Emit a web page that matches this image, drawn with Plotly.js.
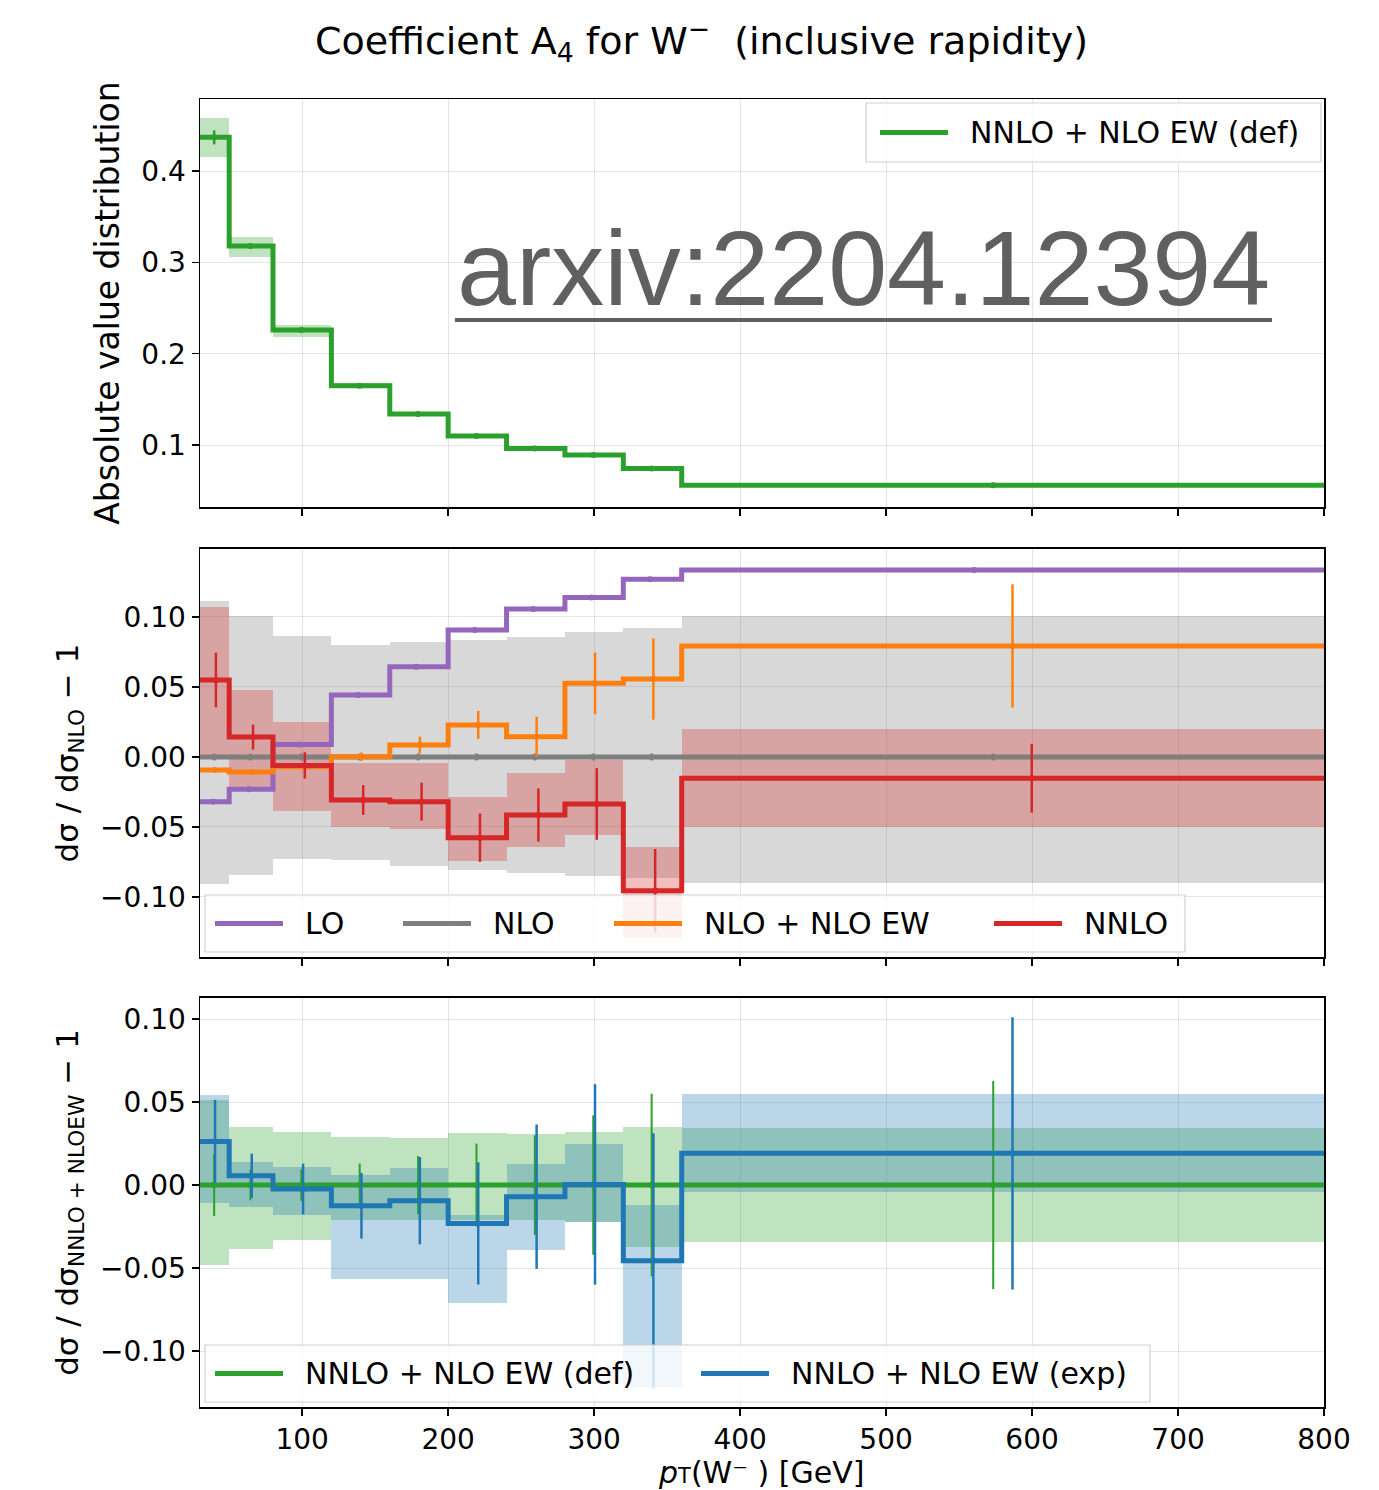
<!DOCTYPE html>
<html>
<head>
<meta charset="utf-8">
<script src="https://cdn.plot.ly/plotly-3.0.1.min.js"></script>
<style>
  html, body { margin: 0; padding: 0; background: #ffffff; }
  #chart { width: 1379px; height: 1490px; }
</style>
</head>
<body>
<div id="chart"></div>
<script>
// ---------------- DATA ----------------
const binEdges = [30, 50, 80, 120, 160, 200, 240, 280, 320, 360, 800];
const xTickVals = [100, 200, 300, 400, 500, 600, 700, 800];

// Top panel: absolute value distribution, NNLO + NLO EW (def)
const absDef       = [0.437, 0.318, 0.226, 0.165, 0.134, 0.110, 0.0963, 0.089, 0.0744, 0.056];
const absDefErr    = [0.0077, 0.002, 0.002, 0.0012, 0.0012, 0.001, 0.001, 0.0015, 0.002, 0.001];
const absDefBandLo = [0.416, 0.306, 0.218, 0.162, 0.132, 0.108, 0.095, 0.088, 0.073, 0.0555];
const absDefBandHi = [0.458, 0.328, 0.231, 0.168, 0.136, 0.112, 0.098, 0.090, 0.076, 0.0565];

// Middle panel: ratio to NLO
const ratioLO        = [-0.032, -0.023, 0.009, 0.0443, 0.0645, 0.0907, 0.1057, 0.114, 0.1269, 0.1336];
const ratioLOErr     = [0.001, 0.001, 0.001, 0.001, 0.001, 0.001, 0.001, 0.001, 0.001, 0.001];
const ratioNLO       = [0, 0, 0, 0, 0, 0, 0, 0, 0, 0];
const ratioNLOErr    = [0.0025, 0.0025, 0.0025, 0.0025, 0.0025, 0.0025, 0.0025, 0.0025, 0.0025, 0.0025];
const ratioNLOBandLo = [-0.0907, -0.0843, -0.0730, -0.0733, -0.0776, -0.0807, -0.0831, -0.085, -0.0864, -0.0902];
const ratioNLOBandHi = [0.1114, 0.1005, 0.0862, 0.080, 0.0819, 0.0836, 0.086, 0.089, 0.0919, 0.1007];
const ratioEW        = [-0.0093, -0.0108, -0.007, 0.0002, 0.0086, 0.0229, 0.0145, 0.0526, 0.0557, 0.0793];
const ratioEWErr     = [0.001, 0.001, 0.0015, 0.003, 0.006, 0.010, 0.0143, 0.022, 0.029, 0.044];
const ratioNNLO       = [0.055, 0.0142, -0.006, -0.0307, -0.0319, -0.0576, -0.0414, -0.0336, -0.0955, -0.0152];
const ratioNNLOErr    = [0.0195, 0.0089, 0.0094, 0.0107, 0.0136, 0.0173, 0.019, 0.0256, 0.0298, 0.0246];
const ratioNNLOBandLo = [0.001, -0.0215, -0.0383, -0.0498, -0.0514, -0.0743, -0.064, -0.0557, -0.1295, -0.0498];
const ratioNNLOBandHi = [0.107, 0.0479, 0.0250, -0.004, -0.0045, -0.0283, -0.0117, -0.0021, -0.064, 0.020];

// Bottom panel: ratio to NNLO + NLO EW (def)
const ratioDef       = [0, 0, 0, 0, 0, 0, 0, 0, 0, 0];
const ratioDefErr    = [0.0187, 0.0092, 0.0095, 0.013, 0.0175, 0.025, 0.030, 0.042, 0.055, 0.0627];
const ratioDefBandLo = [-0.048, -0.0385, -0.0329, -0.0211, -0.0211, -0.0211, -0.0211, -0.0225, -0.0372, -0.0341];
const ratioDefBandHi = [0.051, 0.0351, 0.0321, 0.0289, 0.0281, 0.0311, 0.0305, 0.0321, 0.0347, 0.0345];
const ratioExp       = [0.0263, 0.0056, -0.0024, -0.0125, -0.0094, -0.0231, -0.0070, 0.0004, -0.0456, 0.0191];
const ratioExpErr    = [0.025, 0.0133, 0.0153, 0.0198, 0.0263, 0.0368, 0.0435, 0.0604, 0.0768, 0.082];
const ratioExpBandLo = [-0.011, -0.013, -0.018, -0.0568, -0.0568, -0.0713, -0.039, -0.0225, -0.1215, -0.004];
const ratioExpBandHi = [0.0542, 0.0139, 0.0107, 0.0058, 0.010, -0.018, 0.0127, 0.0247, -0.012, 0.0547];

// Legend labels and axis title
const topLegendLabels    = ['NNLO + NLO EW (def)'];
const middleLegendLabels = ['LO', 'NLO', 'NLO + NLO EW', 'NNLO'];
const bottomLegendLabels = ['NNLO + NLO EW (def)', 'NNLO + NLO EW (exp)'];
const xTitle = '<i>p</i><span style="font-size:21px">T</span>(W⁻ ) [GeV]';

// ---------------- HELPERS ----------------
const centers = binEdges.slice(0, -1).map((e, i) => (e + binEdges[i + 1]) / 2);
const widths  = binEdges.slice(0, -1).map((e, i) => binEdges[i + 1] - e);

const C = {
  green: '#2ca02c', purple: '#9467bd', grey: '#7f7f7f',
  orange: '#ff7f0e', red: '#d62728', blue: '#1f77b4'
};
function rgba(hex, a) {
  const r = parseInt(hex.slice(1, 3), 16), g = parseInt(hex.slice(3, 5), 16), b = parseInt(hex.slice(5, 7), 16);
  return `rgba(${r},${g},${b},${a})`;
}
function stepTrace(vals, color, name, xa, ya) {
  return {
    type: 'scatter', mode: 'lines', name: name,
    x: binEdges, y: vals.concat([vals[vals.length - 1]]),
    line: { shape: 'hv', color: color, width: 5 },
    xaxis: xa, yaxis: ya, showlegend: false, hoverinfo: 'skip'
  };
}
function errTrace(vals, errs, color, frac, xa, ya, thick) {
  return {
    type: 'scatter', mode: 'markers',
    x: centers.map((c, i) => c + frac * widths[i]), y: vals,
    marker: { size: 0, color: color },
    error_y: { type: 'data', array: errs, visible: true, color: color, thickness: thick, width: 0 },
    xaxis: xa, yaxis: ya, showlegend: false, hoverinfo: 'skip'
  };
}
function bandTrace(lo, hi, color, xa, ya) {
  return {
    type: 'bar', x: centers, width: widths, base: lo,
    y: hi.map((h, i) => h - lo[i]),
    marker: { color: rgba(color, 0.3), line: { width: 0 } },
    xaxis: xa, yaxis: ya, showlegend: false, hoverinfo: 'skip'
  };
}

// ---------------- TRACES ----------------
const traces = [
  bandTrace(absDefBandLo, absDefBandHi, C.green, 'x', 'y'),
  stepTrace(absDef, C.green, topLegendLabels[0], 'x', 'y'),
  errTrace(absDef, absDefErr, C.green, -0.015, 'x', 'y', 2.5),

  bandTrace(ratioNLOBandLo, ratioNLOBandHi, C.grey, 'x2', 'y2'),
  bandTrace(ratioNNLOBandLo, ratioNNLOBandHi, C.red, 'x2', 'y2'),
  stepTrace(ratioLO, C.purple, middleLegendLabels[0], 'x2', 'y2'),
  errTrace(ratioLO, ratioLOErr, C.purple, -0.045, 'x2', 'y2', 2.5),
  stepTrace(ratioNLO, C.grey, middleLegendLabels[1], 'x2', 'y2'),
  errTrace(ratioNLO, ratioNLOErr, C.grey, -0.015, 'x2', 'y2', 2.5),
  stepTrace(ratioEW, C.orange, middleLegendLabels[2], 'x2', 'y2'),
  errTrace(ratioEW, ratioEWErr, C.orange, 0.015, 'x2', 'y2', 2.5),
  stepTrace(ratioNNLO, C.red, middleLegendLabels[3], 'x2', 'y2'),
  errTrace(ratioNNLO, ratioNNLOErr, C.red, 0.045, 'x2', 'y2', 2.5),

  bandTrace(ratioDefBandLo, ratioDefBandHi, C.green, 'x3', 'y3'),
  bandTrace(ratioExpBandLo, ratioExpBandHi, C.blue, 'x3', 'y3'),
  stepTrace(ratioDef, C.green, bottomLegendLabels[0], 'x3', 'y3'),
  errTrace(ratioDef, ratioDefErr, C.green, -0.015, 'x3', 'y3', 2),
  stepTrace(ratioExp, C.blue, bottomLegendLabels[1], 'x3', 'y3'),
  errTrace(ratioExp, ratioExpErr, C.blue, 0.015, 'x3', 'y3', 2.5)
];

// ---------------- LAYOUT ----------------
const W = 1379, H = 1490;
const M = { l: 200, r: 55, t: 99, b: 83 };
const plotW = W - M.l - M.r, plotH = H - M.t - M.b;
const px2x = px => (px - M.l) / plotW;
const px2y = py => (H - M.b - py) / plotH;

const FONT = 'DejaVu Sans, Noto Sans, sans-serif';
function xAxis(anchor, labels) {
  const ax = {
    anchor: anchor, range: [30, 800], tickvals: xTickVals,
    showticklabels: labels, ticks: 'outside', ticklen: 7, tickwidth: 1.5, tickcolor: '#000',
    showline: true, linecolor: '#000', linewidth: 1.5, mirror: true,
    showgrid: true, gridcolor: 'rgba(0,0,0,0.1)', gridwidth: 1, zeroline: false,
    tickfont: { size: 28, color: '#000', family: FONT }
  };
  if (anchor !== 'y') ax.matches = 'x';
  return ax;
}
function yAxis(domain, range, tickvals, fmt, title, tsize) {
  return {
    domain: domain, range: range, tickvals: tickvals, tickformat: fmt,
    ticks: 'outside', ticklen: 7, tickwidth: 1.5, tickcolor: '#000',
    showline: true, linecolor: '#000', linewidth: 1.5, mirror: true,
    showgrid: true, gridcolor: 'rgba(0,0,0,0.1)', gridwidth: 1, zeroline: false,
    tickfont: { size: 28, color: '#000', family: FONT },
    title: { text: title, font: { size: tsize, color: '#000', family: FONT }, standoff: 12 }
  };
}

// Manual legends (box + line sample + label) placed in pixel positions
const shapes = [];
const annotations = [];
function addLegend(box, items) {
  shapes.push({
    type: 'rect', xref: 'paper', yref: 'paper', layer: 'above',
    x0: px2x(box[0]), x1: px2x(box[2]), y0: px2y(box[3]), y1: px2y(box[1]),
    fillcolor: 'rgba(255,255,255,0.8)', line: { color: '#d0d0d0', width: 1.2 }
  });
  const cy = (box[1] + box[3]) / 2;
  items.forEach(it => {
    shapes.push({
      type: 'line', xref: 'paper', yref: 'paper', layer: 'above',
      x0: px2x(it.x), x1: px2x(it.x + 68), y0: px2y(cy), y1: px2y(cy),
      line: { color: it.color, width: 5 }
    });
    annotations.push({
      text: it.label, xref: 'paper', yref: 'paper', showarrow: false,
      x: px2x(it.x + 88), y: px2y(cy), xanchor: 'left', yanchor: 'middle',
      font: { size: 30, color: '#000', family: FONT }
    });
  });
}
addLegend([866, 103, 1321, 162], [{ x: 880, color: C.green, label: topLegendLabels[0] }]);
addLegend([205, 895, 1185, 952], [
  { x: 215, color: C.purple, label: middleLegendLabels[0] },
  { x: 403, color: C.grey, label: middleLegendLabels[1] },
  { x: 614, color: C.orange, label: middleLegendLabels[2] },
  { x: 994, color: C.red, label: middleLegendLabels[3] }
]);
addLegend([205, 1345, 1150, 1402], [
  { x: 215, color: C.green, label: bottomLegendLabels[0] },
  { x: 701, color: C.blue, label: bottomLegendLabels[1] }
]);

// x-axis title placed just below the tick labels
annotations.push({
  text: xTitle, xref: 'paper', yref: 'paper', showarrow: false,
  x: px2x(761), y: px2y(1453), xanchor: 'center', yanchor: 'top',
  font: { size: 30, color: '#000', family: FONT }
});

// Watermark
annotations.push({
  text: 'arxiv:2204.12394', xref: 'paper', yref: 'paper',
  x: px2x(863.5), y: px2y(268), xanchor: 'center', yanchor: 'middle', showarrow: false,
  font: { family: 'Liberation Sans, Arial, sans-serif', size: 106, color: '#606060' }
});
shapes.push({
  type: 'line', xref: 'paper', yref: 'paper',
  x0: px2x(455), x1: px2x(1272), y0: px2y(320), y1: px2y(320),
  line: { color: '#606060', width: 4 }
});

const layout = {
  width: W, height: H,
  margin: M,
  paper_bgcolor: '#ffffff', plot_bgcolor: '#ffffff',
  font: { family: FONT, color: '#000' },
  barmode: 'overlay', bargap: 0, showlegend: false,
  title: {
    text: 'Coefficient A<sub>4</sub> for W<sup>−</sup>  (inclusive rapidity)',
    font: { size: 38, color: '#000', family: FONT },
    x: 0.5087, xref: 'container', xanchor: 'center',
    y: 0.973, yref: 'container', yanchor: 'middle'
  },
  xaxis: xAxis('y', false),
  xaxis2: xAxis('y2', false),
  xaxis3: xAxis('y3', true),
  yaxis: yAxis([0.688, 1], [0.032, 0.479], [0.1, 0.2, 0.3, 0.4], '.1f', 'Absolute value distribution', 33),
  yaxis2: yAxis([0.344, 0.656], [-0.1429, 0.1486], [-0.1, -0.05, 0, 0.05, 0.1], '.2f', 'dσ / dσ<sub>NLO</sub> − 1', 31),
  yaxis3: yAxis([0, 0.3127], [-0.1337, 0.1127], [-0.1, -0.05, 0, 0.05, 0.1], '.2f', 'dσ / dσ<sub>NNLO + NLOEW</sub> − 1', 31),
  annotations: annotations,
  shapes: shapes
};

Plotly.newPlot('chart', traces, layout, { displayModeBar: false, staticPlot: true });
</script>
</body>
</html>
